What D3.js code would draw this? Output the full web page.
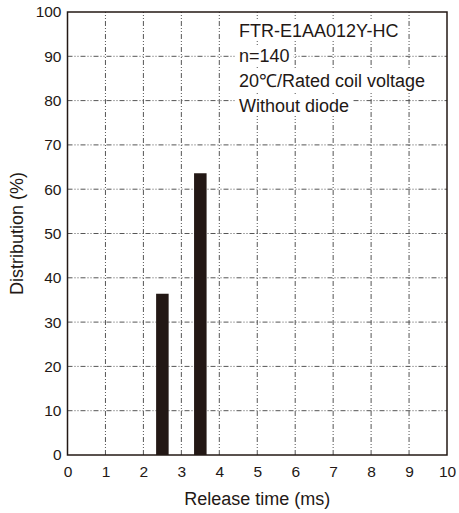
<!DOCTYPE html>
<html>
<head>
<meta charset="utf-8">
<script src="https://cdn.jsdelivr.net/npm/d3@7"></script>
<style>
  html, body { margin: 0; padding: 0; background: #fff; }
  svg { display: block; font-family: "Liberation Sans", Arial, sans-serif; }
</style>
</head>
<body>
<svg id="chart" width="459" height="513"></svg>
<script>
// Release time distribution histogram
const releaseTimes = [2.5, 3.5];          // bar centres (ms)
const distribution = [36.4, 63.6];        // share of samples (%)
const xTicks = [0, 1, 2, 3, 4, 5, 6, 7, 8, 9, 10];
const yTicks = [0, 10, 20, 30, 40, 50, 60, 70, 80, 90, 100];
const noteLines = ["FTR-E1AA012Y-HC", "n=140", "20\u2103/Rated coil voltage", "Without diode"];
const barWidth = 0.33;                    // in ms

const margin = { left: 67.5, right: 12, top: 12, bottom: 58 };
const W = 459, H = 513;
const svg = d3.select("#chart");

const x = d3.scaleLinear().domain([0, 10]).range([margin.left, W - margin.right]);
const y = d3.scaleLinear().domain([0, 100]).range([H - margin.bottom, margin.top]);

const ink = "#231815";

// Grid lines (dash-dot-dot)
const grid = svg.append("g").attr("stroke", "#555").attr("stroke-width", 1)
  .attr("stroke-dasharray", "5,2,1,2,1,2");
grid.selectAll("line.v").data(xTicks.slice(1, -1)).join("line")
  .attr("x1", d => x(d)).attr("x2", d => x(d))
  .attr("y1", y(0)).attr("y2", y(100));
grid.selectAll("line.h").data(yTicks.slice(1, -1)).join("line")
  .attr("x1", x(0)).attr("x2", x(10))
  .attr("y1", d => y(d)).attr("y2", d => y(d));

// Annotation block with white backing behind each line
const note = svg.append("g");
const noteX = 239, noteY0 = 37, noteStep = 25;
noteLines.forEach((t, i) => {
  const txt = note.append("text")
    .attr("x", noteX).attr("y", noteY0 + i * noteStep)
    .attr("font-size", 18).attr("fill", ink).text(t);
  const bb = txt.node().getBBox();
  note.insert("rect", "text")
    .attr("x", bb.x - 4).attr("y", bb.y - 1)
    .attr("width", bb.width + 8).attr("height", bb.height + 1)
    .attr("fill", "#fff");
});

// Bars
svg.append("g").selectAll("rect").data(releaseTimes).join("rect")
  .attr("x", (d) => x(d - barWidth / 2))
  .attr("width", (d) => x(d + barWidth / 2) - x(d - barWidth / 2))
  .attr("y", (d, i) => y(distribution[i]))
  .attr("height", (d, i) => y(0) - y(distribution[i]))
  .attr("fill", ink);

// Frame
svg.append("rect")
  .attr("x", x(0)).attr("y", y(100))
  .attr("width", x(10) - x(0)).attr("height", y(0) - y(100))
  .attr("fill", "none").attr("stroke", ink).attr("stroke-width", 1.5);

// Axes (labels only)
const xAxis = svg.append("g").attr("transform", `translate(0,${y(0)})`)
  .call(d3.axisBottom(x).tickValues(xTicks).tickSize(0).tickPadding(11));
const yAxis = svg.append("g").attr("transform", `translate(${x(0)},0)`)
  .call(d3.axisLeft(y).tickValues(yTicks).tickSize(0).tickPadding(6));
[xAxis, yAxis].forEach(a => {
  a.select(".domain").remove();
  a.selectAll("text").attr("font-size", 15.5).attr("fill", ink)
    .attr("font-family", "Liberation Sans, Arial, sans-serif");
});

// Axis titles
svg.append("text")
  .attr("x", (x(0) + x(10)) / 2).attr("y", 505)
  .attr("text-anchor", "middle").attr("font-size", 18).attr("fill", ink)
  .text("Release time (ms)");
svg.append("text")
  .attr("transform", `translate(23,${(y(0) + y(100)) / 2}) rotate(-90)`)
  .attr("text-anchor", "middle").attr("font-size", 18).attr("fill", ink)
  .text("Distribution (%)");
</script>
</body>
</html>
